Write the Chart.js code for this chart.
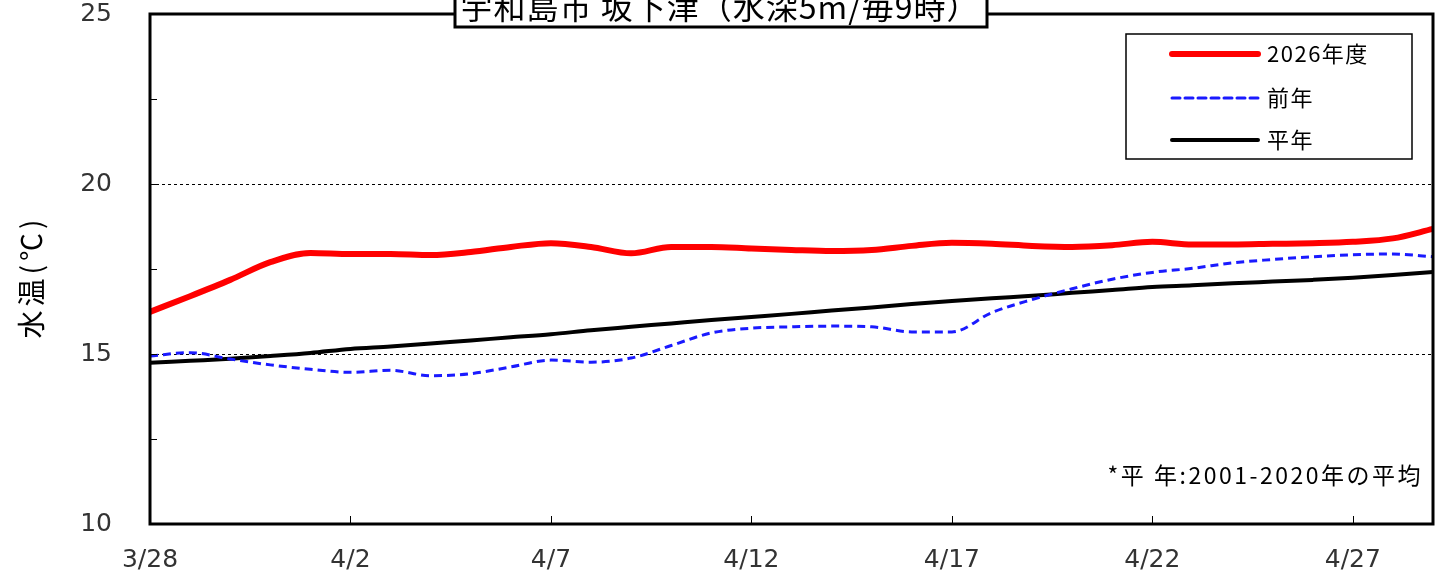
<!DOCTYPE html>
<html>
<head>
<meta charset="utf-8">
<script src="https://cdn.jsdelivr.net/npm/chart.js@4.4.1/dist/chart.umd.min.js"></script>
<style>
  body { margin: 0; background: #fff; }
  canvas { display: block; }
</style>
</head>
<body>
<canvas id="temp-chart" width="1443" height="576"></canvas>
<script>
// Days 3/28 - 4/29
const days = [
    "3/28", "3/29", "3/30", "3/31", "4/1", "4/2", "4/3", "4/4", "4/5", "4/6", "4/7",
    "4/8", "4/9", "4/10", "4/11", "4/12", "4/13", "4/14", "4/15", "4/16", "4/17",
    "4/18", "4/19", "4/20", "4/21", "4/22", "4/23", "4/24", "4/25", "4/26", "4/27",
    "4/28", "4/29",
];

// Water temp (5m depth, 9 o'clock)
const thisYear = [
    16.24, 16.70, 17.18, 17.70, 17.97, 17.94, 17.94, 17.91, 18.00, 18.15, 18.26,
    18.15, 17.96, 18.15, 18.15, 18.10, 18.06, 18.03, 18.06, 18.18, 18.27,
    18.24, 18.18, 18.15, 18.20, 18.30, 18.22, 18.22, 18.24, 18.26, 18.30,
    18.40, 18.68,
];
const lastYear = [
    14.94, 15.04, 14.85, 14.68, 14.55, 14.46, 14.52, 14.36, 14.42, 14.62, 14.82,
    14.76, 14.88, 15.25, 15.62, 15.76, 15.80, 15.82, 15.80, 15.65, 15.65,
    16.22, 16.60, 16.92, 17.20, 17.40, 17.52, 17.68, 17.78, 17.86, 17.92,
    17.94, 17.86,
];
const normal = [
    14.74, 14.80, 14.86, 14.94, 15.03, 15.15, 15.22, 15.31, 15.40, 15.49, 15.58,
    15.70, 15.80, 15.90, 16.00, 16.09, 16.18, 16.28, 16.37, 16.47, 16.56,
    16.64, 16.71, 16.80, 16.88, 16.97, 17.02, 17.08, 17.13, 17.18, 17.24,
    17.32, 17.41,
];

const yTicks = [10, 15, 20, 25];
const seriesNames = ["2026年度", "前年", "平年"];

const jpFont = '"Noto Sans CJK JP", sans-serif';
const numFont = '"DejaVu Sans", sans-serif';

// Frame, inward ticks, title box, legend and notes
const decorPlugin = {
    id: "decor",
    afterDraw(chart) {
        const ctx = chart.ctx;
        const area = chart.chartArea;
        const xs = chart.scales.x;
        const ys = chart.scales.y;
        ctx.save();

        // inward tick marks
        ctx.strokeStyle = "#000";
        ctx.lineWidth = 1;
        ctx.beginPath();
        for (let i = 0; i < days.length; i += 5) {
            const x = Math.round(xs.getPixelForValue(i)) + 0.5;
            ctx.moveTo(x, area.bottom);
            ctx.lineTo(x, area.bottom - 8);
        }
        for (let v = 12.5; v < 25; v += 2.5) {
            const y = Math.round(ys.getPixelForValue(v)) + 0.5;
            ctx.moveTo(area.left, y);
            ctx.lineTo(area.left + 7, y);
        }
        ctx.stroke();

        // plot frame
        ctx.lineWidth = 3;
        ctx.strokeRect(area.left, area.top, area.right - area.left, area.bottom - area.top);

        // title box (cut off at the top)
        ctx.fillStyle = "#fff";
        ctx.fillRect(455, -20, 532, 47);
        ctx.lineWidth = 3;
        ctx.strokeRect(455, -20, 532, 47);
        ctx.fillStyle = "#000";
        ctx.font = "32px " + jpFont;
        ctx.letterSpacing = "1px";
        ctx.textAlign = "center";
        ctx.textBaseline = "alphabetic";
        ctx.fillText("宇和島市 坂下津（水深5m/毎9時）", 720, 19);

        // legend
        ctx.fillStyle = "#fff";
        ctx.fillRect(1126, 34, 286, 125);
        ctx.lineWidth = 1.5;
        ctx.strokeRect(1126, 34, 286, 125);
        const rows = [54, 98, 140];
        ctx.letterSpacing = "1.5px";
        chart.data.datasets.forEach((ds, i) => {
            ctx.beginPath();
            ctx.strokeStyle = ds.borderColor;
            ctx.lineWidth = ds.borderWidth;
            ctx.lineCap = "round";
            ctx.setLineDash(ds.borderDash || []);
            ctx.moveTo(1172, rows[i]);
            ctx.lineTo(1258, rows[i]);
            ctx.stroke();
            ctx.setLineDash([]);
            ctx.fillStyle = "#000";
            ctx.font = "22px " + jpFont;
            ctx.textAlign = "left";
            ctx.textBaseline = "middle";
            ctx.fillText(ds.label, 1267, rows[i]);
        });

        // note
        ctx.font = "23px " + jpFont;
        ctx.letterSpacing = "2.5px";
        ctx.textAlign = "right";
        ctx.fillText("*平 年:2001-2020年の平均", 1423, 475);

        // y axis title
        ctx.translate(31, 277);
        ctx.rotate(-Math.PI / 2);
        ctx.textAlign = "center";
        ctx.font = "28px " + jpFont;
        ctx.letterSpacing = "4px";
        ctx.fillText("水温(℃)", 0, 0);
        ctx.restore();
    },
};

const chart_data = {
    labels: days,
    datasets: [
        {
            label: seriesNames[0],
            data: thisYear,
            borderColor: "#ff0000",
            borderWidth: 6,
        },
        {
            label: seriesNames[1],
            data: lastYear,
            borderColor: "#1a1aff",
            borderWidth: 3,
            borderDash: [8, 5],
        },
        {
            label: seriesNames[2],
            data: normal,
            borderColor: "#000000",
            borderWidth: 4,
        },
    ],
};

// no extra padding from tick labels, so the plot area is fixed
const fixPadding = (scale) => {
    scale.paddingTop = 0;
    scale.paddingBottom = 0;
    scale.paddingLeft = 0;
    scale.paddingRight = 0;
};

const chart_config = {
    type: "line",
    data: chart_data,
    options: {
        responsive: false,
        animation: false,
        layout: { padding: { left: 0, right: 10, top: 14, bottom: 0 } },
        elements: {
            point: { radius: 0 },
            line: { tension: 0.4, cubicInterpolationMode: "monotone", capBezierPoints: true },
        },
        plugins: {
            legend: { display: false },
            tooltip: { enabled: false },
        },
        scales: {
            x: {
                afterFit: (scale) => {
                    scale.height = 52;
                    fixPadding(scale);
                },
                grid: { display: false, drawTicks: false },
                border: { display: false },
                ticks: {
                    autoSkip: false,
                    maxRotation: 0,
                    padding: 21,
                    color: "#333",
                    font: { family: numFont, size: 25 },
                    callback: (val, idx) => (idx % 5 === 0 ? days[idx] : ""),
                },
            },
            y: {
                min: 10,
                max: 25,
                afterFit: (scale) => {
                    scale.width = 150;
                    fixPadding(scale);
                },
                afterBuildTicks: (scale) => {
                    scale.ticks = yTicks.map((v) => ({ value: v }));
                },
                grid: {
                    drawTicks: false,
                    color: (c) => (c.tick && (c.tick.value === 15 || c.tick.value === 20) ? "#000" : "rgba(0,0,0,0)"),
                    lineWidth: 1,
                },
                border: { display: false, dash: [3, 3] },
                ticks: {
                    padding: 38,
                    color: "#333",
                    font: { family: numFont, size: 25 },
                },
            },
        },
    },
    plugins: [decorPlugin],
};

const tempChart = new Chart(document.getElementById("temp-chart"), chart_config);
</script>
</body>
</html>
